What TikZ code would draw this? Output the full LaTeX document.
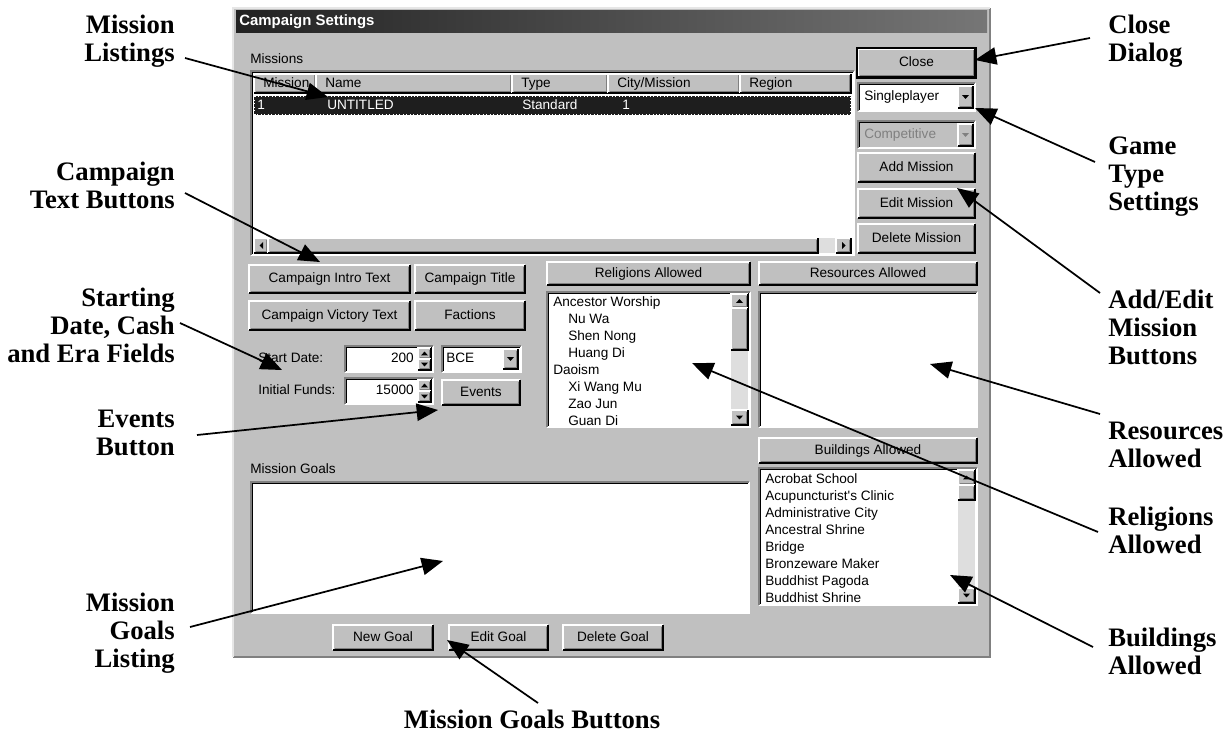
\documentclass[tikz,border=0pt]{standalone}
\usepackage{fontspec}
\setmainfont{Liberation Serif}
\newfontfamily\uifont{Liberation Sans}
\usetikzlibrary{arrows.meta,positioning}

\definecolor{winface}{RGB}{192,192,192}
\definecolor{winshadow}{RGB}{128,128,128}
\definecolor{winselect}{RGB}{30,30,30}
\definecolor{windither}{RGB}{222,222,222}
\definecolor{wintitle}{RGB}{34,34,34}
\definecolor{wintitleend}{RGB}{118,118,118}

% 3D frames, args: x1 y1 x2 y2 (top left, bottom right)
\newcommand{\raisedpanel}[4]{%
  \fill[winface] (#1,#2) rectangle (#3,#4);
  \draw[winshadow, line width=0.9pt] (#1+1.5,#4-1.5) -- (#3-1.5,#4-1.5) -- (#3-1.5,#2+1.5);
  \draw[white, line width=0.9pt] (#1,#4) -- (#1,#2) -- (#3,#2);
  \draw[black, line width=0.9pt] (#1,#4) -- (#3,#4) -- (#3,#2);
}
\newcommand{\sunkenpanel}[5]{%
  \fill[#5] (#1,#2) rectangle (#3,#4);
  \draw[white, line width=0.9pt] (#1,#4) -- (#3,#4) -- (#3,#2);
  \draw[winshadow, line width=0.9pt] (#1,#4) -- (#1,#2) -- (#3,#2);
  \draw[black, line width=0.9pt] (#1+1.5,#4-1.5) -- (#1+1.5,#2+1.5) -- (#3-1.5,#2+1.5);
}
% push button with a named caption
\newcommand{\winbutton}[6]{%
  \raisedpanel{#2}{#3}{#4}{#5}
  \node[uitext] (#1) at ({(#2+#4)/2},{(#3+#5)/2}) {#6};
}
% small arrow button: x1 y1 x2 y2, 1 = down / -1 = up, colour
\newcommand{\arrowbtn}[6]{%
  \raisedpanel{#1}{#2}{#3}{#4}
  \fill[#6] ({(#1+#3)/2-3.5},{(#2+#4)/2-1.8*(#5)}) -- ({(#1+#3)/2+3.5},{(#2+#4)/2-1.8*(#5)}) -- ({(#1+#3)/2},{(#2+#4)/2+1.8*(#5)}) -- cycle;
}

\begin{document}
\begin{tikzpicture}[x=0.75pt, y=-0.75pt]
    \tikzstyle{callout} = [font=\bfseries\fontsize{20}{21}\selectfont, inner sep=0pt]
    \tikzstyle{uitext} = [font=\uifont\fontsize{10.2}{12}\selectfont, inner sep=0pt, text height=7.4pt, text depth=2.1pt]
    \tikzstyle{pointer} = [line width=1.3pt, -{Triangle[length=16pt, width=13pt]}]

    \fill[white] (0,0) rectangle (1231,735);
    \useasboundingbox (0,0) rectangle (1231,735);

    % dialog window
    \fill[winface] (233,8) rectangle (990,657);
    \draw[winshadow, line width=0.9pt] (233,657) -- (990,657) -- (990,8);
    \draw[white!60!winface, line width=0.9pt] (233,657) -- (233,8) -- (990,8);
    \shade[left color=wintitle, right color=wintitleend] (236,11) rectangle (987,33);
    \node[uitext, font=\uifont\bfseries\fontsize{11.2}{13}\selectfont, text=white, anchor=west] (title) at (239,22) {Campaign Settings};

    % missions list
    \node[uitext, anchor=west] (missionsHdr) at (250,60) {Missions};
    \sunkenpanel{251}{71}{854}{255}{white}
    \foreach \xa/\xb/\name [count=\i] in {254/316/Mission, 316/512/Name, 512/608/Type, 608/740/{City/Mission}, 740/851/Region} {
        \raisedpanel{\xa}{74}{\xb}{93}
        \node[uitext, anchor=west] (col\i) at (\xa+9,84) {\name};
    }
    \fill[winselect] (254,96) rectangle (851,115);
    \draw[white, dotted, line width=0.6pt] (254.5,96.5) rectangle (850.5,114.5);
    \foreach \x/\txt [count=\i] in {257/1, 327/UNTITLED, 522/Standard, 622/1}
        \node[uitext, text=white, anchor=west] (row\i) at (\x,106) {\txt};
    \fill[windither] (254,238) rectangle (851,253);
    \raisedpanel{254}{238}{268}{253}
    \fill (263,242) -- (263,249) -- (259.5,245.5) -- cycle;
    \raisedpanel{268}{238}{818}{253}
    \raisedpanel{836}{238}{851}{253}
    \fill (842,242) -- (842,249) -- (845.5,245.5) -- cycle;

    % buttons on the right
    \winbutton{btnClose}{858}{49}{975}{77}{Close}
    \draw[black, line width=1.2pt] (857,48) rectangle (976,78);
    \sunkenpanel{858}{83}{975}{111}{white}
    \node[uitext, anchor=west] (gameMode) at (864,97) {Singleplayer};
    \arrowbtn{958}{86}{973}{108}{1}{black}
    \sunkenpanel{858}{121}{975}{148}{winface}
    \node[uitext, anchor=west, text=winshadow] (gameRule) at (864,135) {Competitive};
    \arrowbtn{958}{124}{973}{146}{1}{winshadow}
    \winbutton{btnAdd}{858}{153}{975}{182}{Add Mission}
    \winbutton{btnEdit}{858}{189}{975}{218}{Edit Mission}
    \winbutton{btnDelete}{858}{224}{975}{253}{Delete Mission}

    % campaign text buttons
    \winbutton{btnIntro}{249}{265}{410}{293}{Campaign Intro Text}
    \winbutton{btnTitle}{415}{265}{525}{293}{Campaign Title}
    \winbutton{btnVictory}{249}{301}{410}{330}{Campaign Victory Text}
    \winbutton{btnFactions}{415}{301}{525}{330}{Factions}

    % date, era and funds
    \node[uitext, anchor=west] (startLbl) at (258,359) {Start Date:};
    \sunkenpanel{345}{346}{433}{372}{white}
    \node[uitext, anchor=east] (startVal) at (414,359) {200};
    \arrowbtn{418}{348}{431}{359}{-1}{black}
    \arrowbtn{418}{359}{431}{370}{1}{black}
    \sunkenpanel{442}{346}{521}{372}{white}
    \node[uitext, anchor=west] (era) at (446,359) {BCE};
    \arrowbtn{503}{349}{518}{369}{1}{black}
    \node[uitext, anchor=west] (fundsLbl) at (258,391) {Initial Funds:};
    \sunkenpanel{345}{378}{433}{404}{white}
    \node[uitext, anchor=east] (fundsVal) at (414,391) {15000};
    \arrowbtn{418}{380}{431}{391}{-1}{black}
    \arrowbtn{418}{391}{431}{402}{1}{black}
    \winbutton{btnEvents}{442}{380}{520}{405}{Events}

    % religions and resources
    \winbutton{btnReligions}{547}{262}{750}{285}{Religions Allowed}
    \winbutton{btnResources}{759}{262}{977}{285}{Resources Allowed}
    \sunkenpanel{547}{292}{750}{427}{white}
    \foreach \dx/\txt [count=\i] in {0/Ancestor Worship, 15/Nu Wa, 15/Shen Nong, 15/Huang Di, 0/Daoism, 15/Xi Wang Mu, 15/Zao Jun, 15/Guan Di}
        \node[uitext, anchor=west] (rel\i) at (553+\dx,286+17*\i) {\txt};
    \fill[windither] (731,294) rectangle (748,425);
    \arrowbtn{731}{294}{748}{308}{-1}{black}
    \raisedpanel{731}{308}{748}{350}
    \arrowbtn{731}{410}{748}{425}{1}{black}
    \sunkenpanel{759}{292}{977}{427}{white}

    % buildings
    \winbutton{btnBuildings}{759}{438}{977}{463}{Buildings Allowed}
    \sunkenpanel{759}{468}{977}{605}{white}
    \foreach \txt [count=\i] in {Acrobat School, Acupuncturist's Clinic, Administrative City, Ancestral Shrine, Bridge, Bronzeware Maker, Buddhist Pagoda, Buddhist Shrine}
        \node[uitext, anchor=west] (bld\i) at (765,463+17*\i) {\txt};
    \fill[windither] (958,470) rectangle (975,603);
    \arrowbtn{958}{470}{975}{485}{-1}{black}
    \raisedpanel{958}{485}{975}{500}
    \arrowbtn{958}{588}{975}{603}{1}{black}

    % mission goals
    \node[uitext, anchor=west] (goalsHdr) at (250,470) {Mission Goals};
    \sunkenpanel{251}{482}{749}{613}{white}
    \winbutton{btnNewGoal}{333}{625}{433}{650}{New Goal}
    \winbutton{btnEditGoal}{449}{625}{548}{650}{Edit Goal}
    \winbutton{btnDelGoal}{563}{625}{663}{650}{Delete Goal}

    % callouts
    \node[callout, align=right, anchor=east] (lblListings) at (175,41) {Mission\\Listings};
    \node[callout, align=right, anchor=east] (lblCampaign) at (175,185) {Campaign\\Text Buttons};
    \node[callout, align=right, anchor=east] (lblStart) at (175,325) {Starting\\Date, Cash\\and Era Fields};
    \node[callout, align=right, anchor=east] (lblEvents) at (175,433) {Events\\Button};
    \node[callout, align=right, anchor=east] (lblGoals) at (175,633) {Mission\\Goals\\Listing};
    \node[callout, align=left, anchor=west] (lblClose) at (1108,41) {Close\\Dialog};
    \node[callout, align=left, anchor=west] (lblGameType) at (1108,177) {Game\\Type\\Settings};
    \node[callout, align=left, anchor=west] (lblAddEdit) at (1108,327) {Add/Edit\\Mission\\Buttons};
    \node[callout, align=left, anchor=west] (lblResources) at (1108,445) {Resources\\Allowed};
    \node[callout, align=left, anchor=west] (lblReligions) at (1108,530) {Religions\\Allowed};
    \node[callout, align=left, anchor=west] (lblBuildings) at (1108,651) {Buildings\\Allowed};
    \node[callout, anchor=north] (lblGoalBtns) at (532,710) {Mission Goals Buttons};

    % arrow tips inside the dialog
    \coordinate (tipListings) at (328,97);
    \coordinate (tipCampaign) at (320,262);
    \coordinate (tipStart) at (282,370);
    \coordinate (tipEvents) at (438,410);
    \coordinate (tipGoals) at (443,561);
    \coordinate (tipGoalBtns) at (447,640);
    \coordinate (tipClose) at (975,60);
    \coordinate (tipGameType) at (975,108);
    \coordinate (tipAddEdit) at (957,188);
    \coordinate (tipResources) at (930,364);
    \coordinate (tipReligions) at (692,363);
    \coordinate (tipBuildings) at (950,575);

    \draw[pointer] ([shift={(10,17)}]lblListings.east) -- (tipListings);
    \draw[pointer] ([shift={(10,8)}]lblCampaign.east) -- (tipCampaign);
    \draw[pointer] ([shift={(5,-2)}]lblStart.east) -- (tipStart);
    \draw[pointer] ([shift={(22,2)}]lblEvents.east) -- (tipEvents);
    \draw[pointer] ([shift={(15,-6)}]lblGoals.east) -- (tipGoals);
    \draw[pointer] ([shift={(6,-7)}]lblGoalBtns.north) -- (tipGoalBtns);
    \draw[pointer] ([shift={(-18,-3)}]lblClose.west) -- (tipClose);
    \draw[pointer] ([shift={(-13,-15)}]lblGameType.west) -- (tipGameType);
    \draw[pointer] ([shift={(-8,-34)}]lblAddEdit.west) -- (tipAddEdit);
    \draw[pointer] ([shift={(-8,-31)}]lblResources.west) -- (tipResources);
    \draw[pointer] ([shift={(-10,2)}]lblReligions.west) -- (tipReligions);
    \draw[pointer] ([shift={(-15,-4)}]lblBuildings.west) -- (tipBuildings);
\end{tikzpicture}
\end{document}
